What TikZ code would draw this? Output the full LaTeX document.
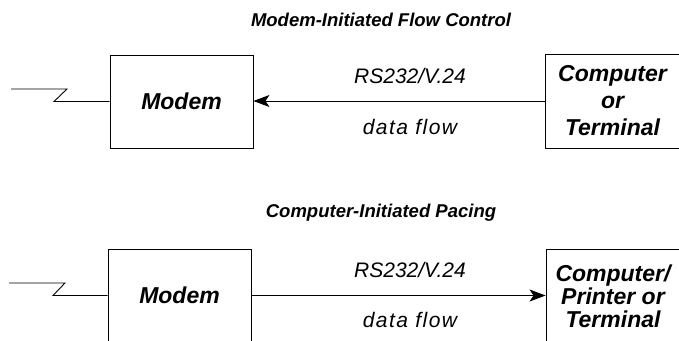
\documentclass[tikz,border=0pt]{standalone}
\usepackage{fontspec}
\setmainfont{Liberation Sans}
\usetikzlibrary{arrows.meta,positioning}

\tikzset{
  devbox/.style={draw, line width=0.9pt, minimum width=143pt, minimum height=93pt, inner sep=0pt, align=center, font=\fontsize{23}{27}\selectfont\bfseries\itshape},
  headline/.style={inner sep=0pt, font=\fontsize{18.5}{22}\selectfont\bfseries\itshape},
  linelabel/.style={inner sep=0pt, font=\fontsize{21}{25}\selectfont\itshape},
  lead/.style={line width=0.9pt},
  flow/.style={line width=0.9pt, -{Stealth[length=16pt,width=12pt,inset=4pt]}}
}

\begin{document}
\begin{tikzpicture}[x=1pt,y=-1pt]
\useasboundingbox (0,0) rectangle (679,340);
% modem-initiated flow control
\node[headline] (head1) at (381,20) {Modem-Initiated Flow Control};
\node[devbox] (modem1) at (181.5,101.5) {Modem};
\node[devbox, minimum width=135pt, minimum height=94pt] (comp1) at (612.5,101) {Computer\\or\\Terminal};
\coordinate (line1) at (11,89);
\coordinate (zig1) at (67,89);
\coordinate (zag1) at (54,101.5);
\draw[lead] (line1) -- (zig1) -- (zag1) -- (modem1.west);
\draw[flow] (comp1.west) -- (modem1.east |- comp1.west);
\node[linelabel] (rs1) at (410,75.5) {RS232/V.24};
\node[linelabel] (data1) at (410,127) {\addfontfeature{LetterSpace=7}data flow};
% computer-initiated pacing
\node[headline] (head2) at (381,212.5) {Computer-Initiated Pacing};
\node[devbox] (modem2) at (179.5,295.5) {Modem};
\node[devbox, minimum width=134pt, minimum height=94pt, font=\fontsize{23}{23}\selectfont\bfseries\itshape] (comp2) at (613,296) {Computer/\\Printer or\\Terminal};
\coordinate (line2) at (9,283);
\coordinate (zig2) at (65,283);
\coordinate (zag2) at (53,295.5);
\draw[lead] (line2) -- (zig2) -- (zag2) -- (modem2.west);
\draw[flow] (modem2.east) -- (comp2.west |- modem2.east);
\node[linelabel] (rs2) at (410,270) {RS232/V.24};
\node[linelabel] (data2) at (410,320) {\addfontfeature{LetterSpace=7}data flow};
\end{tikzpicture}
\end{document}
